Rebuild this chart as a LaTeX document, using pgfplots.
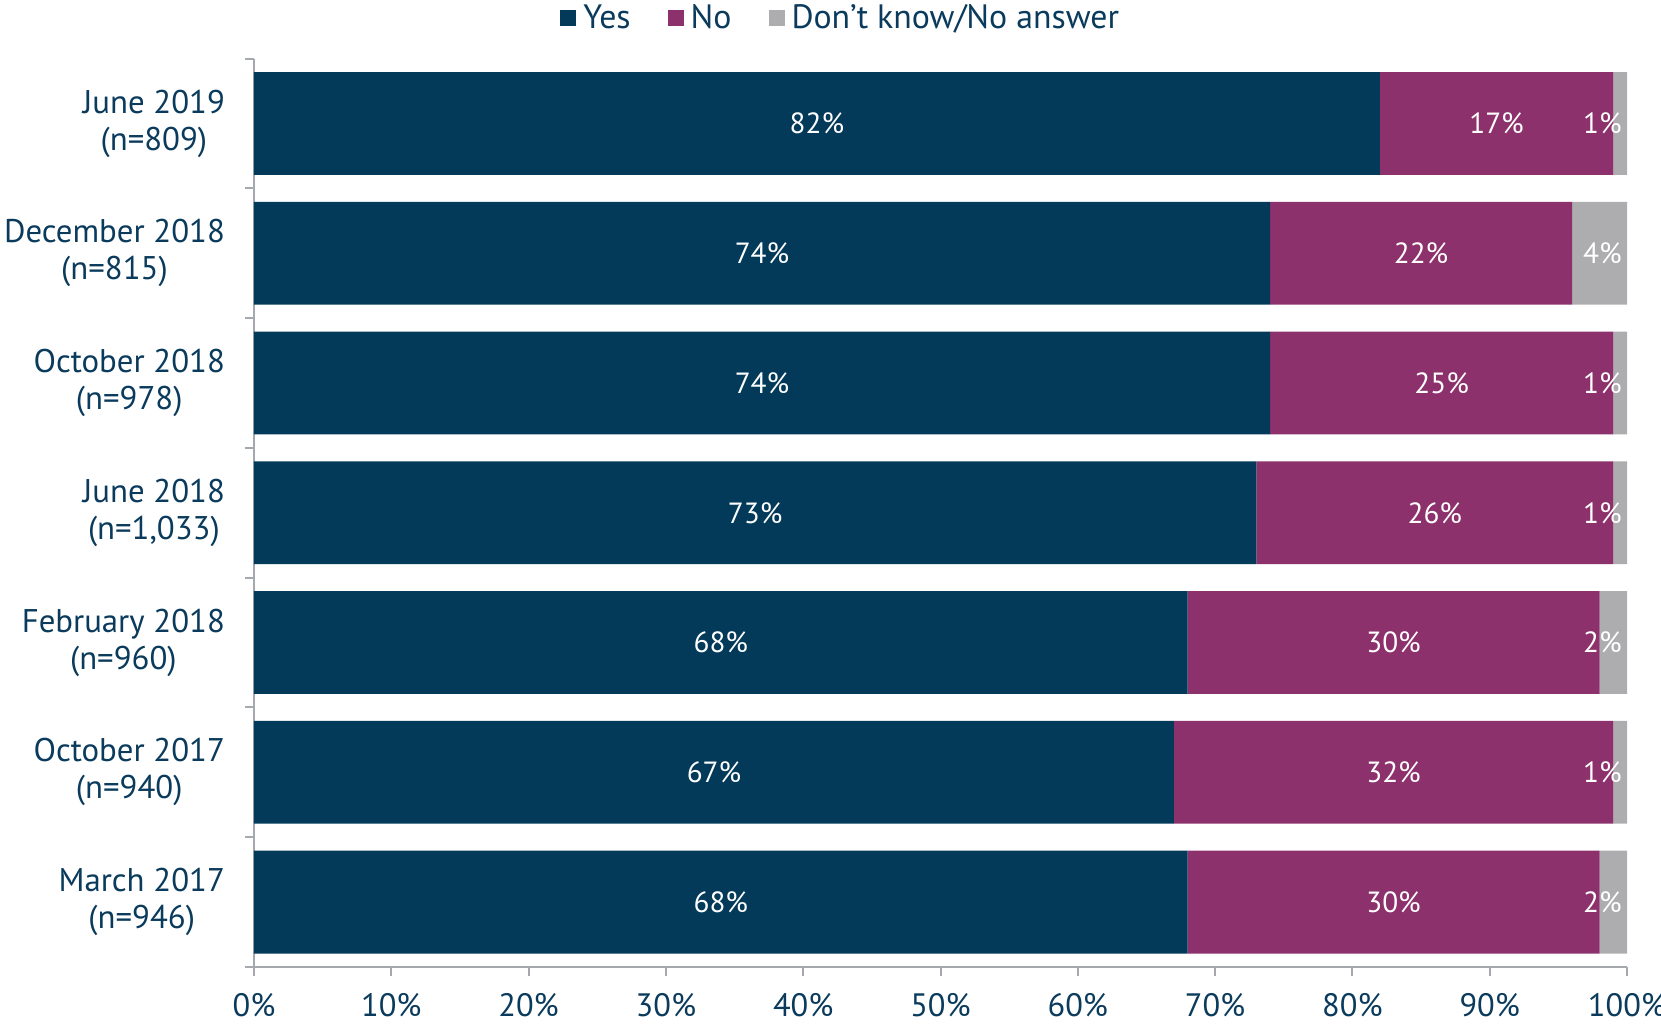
\documentclass[border=0pt]{standalone}
\usepackage{pgfplots}
\pgfplotsset{compat=1.18}
\usepackage{fontspec}
\setmainfont{PT Sans}
\definecolor{yescol}{HTML}{033A5A}
\definecolor{nocol}{HTML}{8C316C}
\definecolor{dkcol}{HTML}{ADADAF}
\definecolor{txtcol}{HTML}{0B3B5C}
\definecolor{axcol}{HTML}{A5A8AD}
\begin{document}
\begin{tikzpicture}
\path[use as bounding box] (-127pt,-31.6pt) rectangle (703.5pt,483.5pt);
\begin{axis}[
  at={(0,0)}, anchor=south west,
  scale only axis, width=686.5pt, height=454.2pt,
  xbar stacked, bar width=51.4pt,
  xmin=0, xmax=100, ymin=-0.5, ymax=6.5,
  axis x line*=bottom, axis y line*=left,
  axis line style={-, draw=axcol, line width=1pt},
  tick style={draw=axcol, line width=1pt},
  tick align=outside, major tick length=4.6pt,
  xtick={0,10,...,100},
  xticklabels={0\%,10\%,20\%,30\%,40\%,50\%,60\%,70\%,80\%,90\%,100\%},
  xticklabel style={font=\fontsize{16.2}{18.5}\selectfont, text=txtcol, yshift=-5.3pt},
  ytick={-0.5,0.5,1.5,2.5,3.5,4.5,5.5,6.5},
  yticklabels={,,,,,,,},
  extra y ticks={0,1,2,3,4,5,6},
  extra y tick labels={{March 2017\\(n=946)},{October 2017\\(n=940)},{February 2018\\(n=960)},{June 2018\\(n=1,033)},{October 2018\\(n=978)},{December 2018\\(n=815)},{June 2019\\(n=809)}},
  extra y tick style={major tick length=0pt, yticklabel style={xshift=-11pt}},
  yticklabel style={font=\fontsize{16.4}{18.5}\selectfont, text=txtcol, align=center},
  /pgf/number format/assume math mode=true,
  legend style={at={(0.428,1.0447)}, anchor=center, draw=none, fill=none,
    font=\fontsize{16.9}{19}\selectfont, text=txtcol,
    /tikz/every even column/.append style={column sep=16.5pt}},
  legend columns=3,
  nodes near coords={\pgfmathprintnumber{\pgfplotspointmeta}\%},
  point meta=rawx,
  visualization depends on={rawx \as \rawx},
]
\addplot[fill=yescol, draw=none,
  every node near coord/.style={font=\fontsize{14.6}{17}\selectfont, text=white, anchor=center},
  legend image code/.code={\fill[yescol] (0pt,-4pt) rectangle (8pt,4pt); \path (9.5pt,0pt);}]
  coordinates {(68,0) (67,1) (68,2) (73,3) (74,4) (74,5) (82,6)};
\addlegendentry{Yes}
\addplot[fill=nocol, draw=none,
  every node near coord/.style={font=\fontsize{14.6}{17}\selectfont, text=white, anchor=center},
  legend image code/.code={\fill[nocol] (0pt,-4pt) rectangle (8pt,4pt); \path (9.5pt,0pt);}]
  coordinates {(30,0) (32,1) (30,2) (26,3) (25,4) (22,5) (17,6)};
\addlegendentry{No}
\addplot[fill=dkcol, draw=none,
  every node near coord/.style={font=\fontsize{14.6}{17}\selectfont, text=white, anchor=east, inner sep=0pt, shift={(axis direction cs:\rawx/2,0)}, xshift=-2.5pt},
  legend image code/.code={\fill[dkcol] (0pt,-4pt) rectangle (8pt,4pt); \path (9.5pt,0pt);}]
  coordinates {(2,0) (1,1) (2,2) (1,3) (1,4) (4,5) (1,6)};
\addlegendentry{Don’t know/No answer}
\end{axis}
\end{tikzpicture}
\end{document}
